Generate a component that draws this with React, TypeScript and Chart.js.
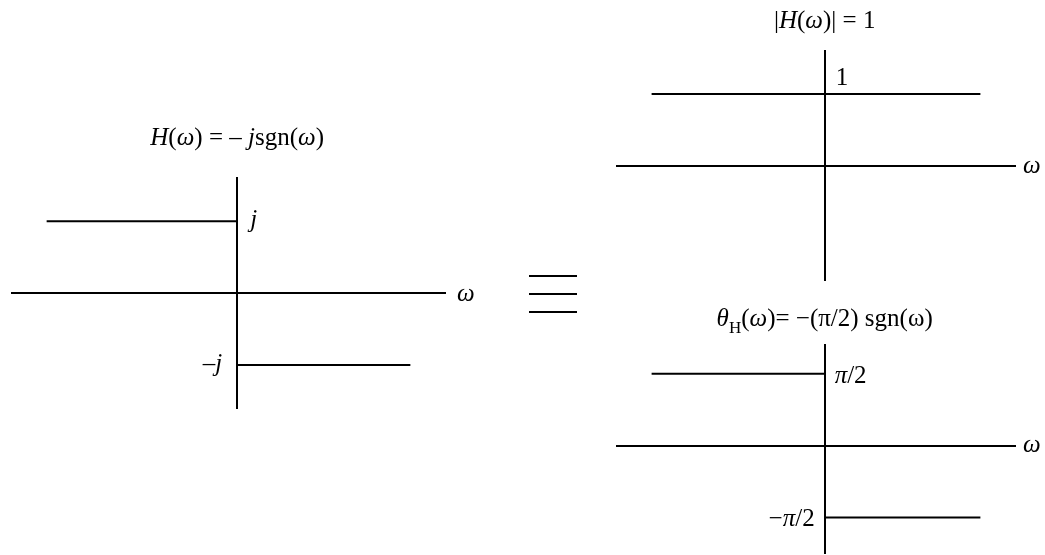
import React, { useEffect, useRef } from 'react';
import { Chart, registerables } from 'chart.js';

Chart.register(...registerables);

// ---------- Data ----------
// Left: H(ω) = −j sgn(ω)  (imaginary part: +1 for ω<0, −1 for ω>0)
const hOmegaNeg = [-5.5, 0];
const hValuesNeg = [1, 1];
const hOmegaPos = [0, 5];
const hValuesPos = [-1, -1];

// Top right: |H(ω)| = 1
const magOmega = [-5, 4.5];
const magValues = [1, 1];

// Bottom right: θ_H(ω) = −(π/2) sgn(ω)
const phaseOmegaNeg = [-5, 0];
const phaseValuesNeg = [Math.PI / 2, Math.PI / 2];
const phaseOmegaPos = [0, 4.5];
const phaseValuesPos = [-Math.PI / 2, -Math.PI / 2];

// ---------- Rich text labels ----------
type Run = { t: string; italic?: boolean; sub?: boolean };
type Label = {
  runs: Run[];
  x: number;
  y: number;
  dx: number;
  dy: number;
  align: 'left' | 'center' | 'right';
  size: number;
};

const FONT_FAMILY = '"Liberation Serif", "Times New Roman", serif';

function fontFor(run: Run, size: number) {
  const s = run.sub ? Math.round(size * 0.68) : size;
  return `${run.italic ? 'italic ' : ''}${s}px ${FONT_FAMILY}`;
}

function makeLabelPlugin(labels: Label[]) {
  return {
    id: 'richLabels',
    afterDraw(chart: any) {
      const ctx: CanvasRenderingContext2D = chart.ctx;
      const xs = chart.scales.x;
      const ys = chart.scales.y;
      ctx.save();
      ctx.fillStyle = '#000';
      ctx.textBaseline = 'alphabetic';
      ctx.textAlign = 'left';
      for (const lb of labels) {
        const px = xs.getPixelForValue(lb.x) + lb.dx;
        const py = ys.getPixelForValue(lb.y) + lb.dy;
        const widths = lb.runs.map((r) => {
          ctx.font = fontFor(r, lb.size);
          return ctx.measureText(r.t).width;
        });
        const total = widths.reduce((a, b) => a + b, 0);
        let cx = lb.align === 'left' ? px : lb.align === 'right' ? px - total : px - total / 2;
        lb.runs.forEach((r, i) => {
          ctx.font = fontFor(r, lb.size);
          ctx.fillText(r.t, cx, py + (r.sub ? lb.size * 0.28 : 0));
          cx += widths[i];
        });
      }
      ctx.restore();
    },
  };
}

type Series = { x: number[]; y: number[] };
type Spec = {
  left: number;
  top: number;
  width: number;
  height: number;
  padding: { left: number; right: number; top: number; bottom: number };
  xRange: [number, number];
  yRange: [number, number];
  series: Series[];
  labels: Label[];
};

function Plot({ spec }: { spec: Spec }) {
  const ref = useRef<HTMLCanvasElement>(null);
  useEffect(() => {
    const axisStyle = {
      type: 'linear' as const,
      grid: { display: false },
      ticks: { display: false },
      border: { display: true, color: '#000', width: 2 },
    };
    const chart = new Chart(ref.current!, {
      type: 'line',
      data: {
        datasets: spec.series.map((s) => ({
          data: s.x.map((x, i) => ({ x, y: s.y[i] })),
          borderColor: '#000',
          borderWidth: 2,
          pointRadius: 0,
          fill: false,
          tension: 0,
        })),
      },
      options: {
        responsive: false,
        animation: false,
        events: [],
        layout: { padding: spec.padding },
        plugins: {
          legend: { display: false },
          tooltip: { enabled: false },
          title: { display: false },
        },
        scales: {
          x: {
            ...axisStyle,
            axis: 'x',
            min: spec.xRange[0],
            max: spec.xRange[1],
            position: { y: 0 },
          },
          y: {
            ...axisStyle,
            axis: 'y',
            min: spec.yRange[0],
            max: spec.yRange[1],
            position: { x: 0 },
          },
        },
      } as any,
      plugins: [makeLabelPlugin(spec.labels)],
    });
    return () => chart.destroy();
  }, []);
  return (
    <canvas
      ref={ref}
      width={spec.width}
      height={spec.height}
      style={{ position: 'absolute', left: spec.left, top: spec.top, width: spec.width, height: spec.height }}
    />
  );
}

const SIZE = 25;

const leftSpec: Spec = {
  left: 0,
  top: 100,
  width: 500,
  height: 330,
  padding: { left: 12, right: 55, top: 78, bottom: 22 },
  xRange: [-6.5, 6],
  yRange: [-1.6, 1.6],
  series: [
    { x: hOmegaNeg, y: hValuesNeg },
    { x: hOmegaPos, y: hValuesPos },
  ],
  labels: [
    {
      runs: [
        { t: 'H', italic: true },
        { t: '(' },
        { t: 'ω', italic: true },
        { t: ') = – ' },
        { t: 'j', italic: true },
        { t: 'sgn(' },
        { t: 'ω', italic: true },
        { t: ')' },
      ],
      x: 0, y: 1.6, dx: 0, dy: -33, align: 'center', size: SIZE,
    },
    { runs: [{ t: 'j', italic: true }], x: 0, y: hValuesNeg[0], dx: 13, dy: 6, align: 'left', size: SIZE },
    { runs: [{ t: '–' }, { t: 'j', italic: true }], x: 0, y: hValuesPos[0], dx: -15, dy: 6, align: 'right', size: SIZE },
    { runs: [{ t: 'ω', italic: true }], x: 6, y: 0, dx: 12, dy: 8, align: 'left', size: SIZE },
  ],
};

const magSpec: Spec = {
  left: 600,
  top: 0,
  width: 445,
  height: 300,
  padding: { left: 17, right: 30, top: 51, bottom: 20 },
  xRange: [-6, 5.5],
  yRange: [-1.6, 1.6],
  series: [{ x: magOmega, y: magValues }],
  labels: [
    {
      runs: [
        { t: '|' },
        { t: 'H', italic: true },
        { t: '(' },
        { t: 'ω', italic: true },
        { t: ')| = 1' },
      ],
      x: 0, y: 1.6, dx: 0, dy: -23, align: 'center', size: SIZE,
    },
    { runs: [{ t: '1' }], x: 0, y: magValues[0], dx: 11, dy: -9, align: 'left', size: SIZE },
    { runs: [{ t: 'ω', italic: true }], x: 5.5, y: 0, dx: 8, dy: 7, align: 'left', size: SIZE },
  ],
};

const phaseSpec: Spec = {
  left: 600,
  top: 300,
  width: 445,
  height: 255,
  padding: { left: 17, right: 30, top: 45, bottom: 2 },
  xRange: [-6, 5.5],
  yRange: [-2.35, 2.2],
  series: [
    { x: phaseOmegaNeg, y: phaseValuesNeg },
    { x: phaseOmegaPos, y: phaseValuesPos },
  ],
  labels: [
    {
      runs: [
        { t: 'θ', italic: true },
        { t: 'H', sub: true },
        { t: '(' },
        { t: 'ω', italic: true },
        { t: ')= −(π/2) sgn(ω)' },
      ],
      x: 0, y: 2.2, dx: 0, dy: -19, align: 'center', size: SIZE,
    },
    { runs: [{ t: 'π', italic: true }, { t: '/2' }], x: 0, y: phaseValuesNeg[0], dx: 10, dy: 9, align: 'left', size: SIZE },
    { runs: [{ t: '−' }, { t: 'π', italic: true }, { t: '/2' }], x: 0, y: phaseValuesPos[0], dx: -10, dy: 9, align: 'right', size: SIZE },
    { runs: [{ t: 'ω', italic: true }], x: 5.5, y: 0, dx: 8, dy: 6, align: 'left', size: SIZE },
  ],
};

export default function App() {
  const bar = (top: number) => (
    <div style={{ position: 'absolute', left: 529, top, width: 48, height: 2, background: '#000' }} />
  );
  return (
    <div style={{ position: 'absolute', left: 0, top: 0, width: 1045, height: 555, background: '#fff', overflow: 'hidden' }}>
      <Plot spec={leftSpec} />
      <div aria-label="≡" title="≡">
        {bar(275)}
        {bar(293)}
        {bar(311)}
      </div>
      <Plot spec={magSpec} />
      <Plot spec={phaseSpec} />
    </div>
  );
}
